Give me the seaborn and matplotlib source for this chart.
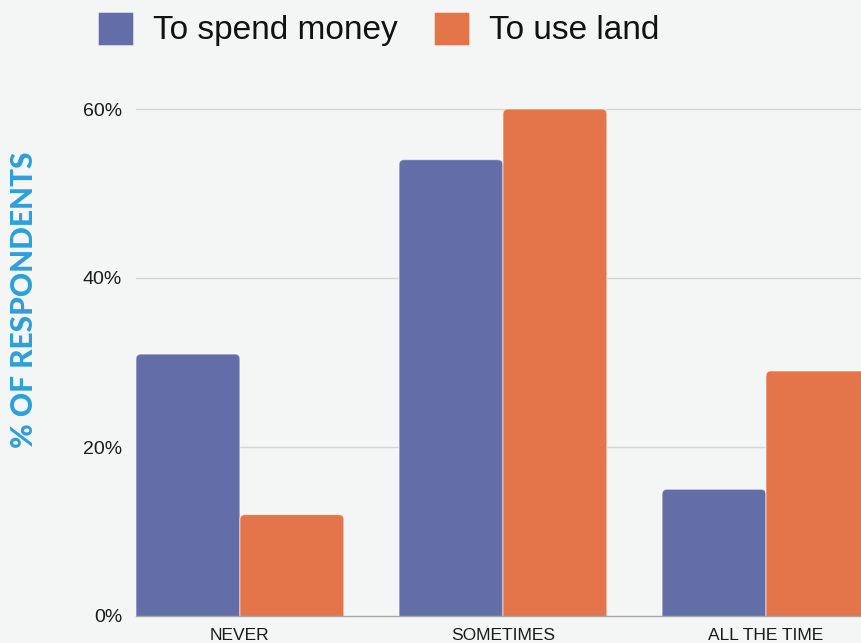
import matplotlib
matplotlib.use("Agg")
import matplotlib.pyplot as plt
from matplotlib.patches import FancyBboxPatch, Patch
import seaborn as sns
import pandas as pd

categories = ["NEVER", "SOMETIMES", "ALL THE TIME"]
series_names = ["To spend money", "To use land"]
spend_money = [31, 54, 15]
use_land = [12, 60, 29]
y_ticks = [0, 20, 40, 60]
y_tick_labels = ["0%", "20%", "40%", "60%"]

colors = ["#636EA8", "#E4744A"]
bg = "#F4F6F5"

df = pd.DataFrame({
    "category": categories * 2,
    "series": [series_names[0]] * 3 + [series_names[1]] * 3,
    "value": spend_money + use_land,
})

sns.set_theme(style="white")
plt.rcParams["font.family"] = ["Liberation Sans", "DejaVu Sans"]

W, H = 861, 643
fig = plt.figure(figsize=(W / 100, H / 100), dpi=100, facecolor=bg)

# axes: left edge at x=136px, bottom (0%) at y=616px, runs past the right edge
ymax = 62
px_per_unit = (616 - 109) / 60
ax_top_px = 616 - ymax * px_per_unit
ax = fig.add_axes([136 / W, (H - 616) / H, 1 - 136 / W, (616 - ax_top_px) / H])
ax.set_facecolor(bg)

sns.barplot(data=df, x="category", y="value", hue="series", order=categories,
            hue_order=series_names, palette=colors, width=0.79, saturation=1,
            ax=ax, legend=False, zorder=2)

ax.set_xlim(-0.395, (861 - 240) / 263)
ax.set_ylim(0, ymax)

# replace plain rectangles with bars that have rounded top corners
fig.canvas.draw()
bbox = ax.get_window_extent()
x0, x1 = ax.get_xlim()
y0, y1 = ax.get_ylim()
x_per_px = (x1 - x0) / bbox.width
y_per_px = (y1 - y0) / bbox.height
aspect = y_per_px / x_per_px
radius_px = 5
r = radius_px * x_per_px
for rect in list(ax.patches):
    x, w, h = rect.get_x(), rect.get_width(), rect.get_height()
    fc = rect.get_facecolor()
    rect.remove()
    extra = 2 * radius_px * y_per_px
    ax.add_patch(FancyBboxPatch(
        (x, -extra), w, h + extra,
        boxstyle=f"round,pad=0,rounding_size={r}",
        mutation_aspect=aspect, facecolor=fc,
        edgecolor=(1, 1, 1, 0.55), linewidth=0.8, zorder=2))

ax.set_yticks(y_ticks)
ax.set_yticklabels(y_tick_labels, fontsize=14, color="#1a1a1a")
ax.tick_params(axis="y", length=0, pad=10)
ax.tick_params(axis="x", length=0, pad=8.5, labelsize=12.5, labelcolor="#1a1a1a")
ax.set_xlabel("")
ax.set_ylabel("")
for s in ["top", "right", "left"]:
    ax.spines[s].set_visible(False)
ax.spines["bottom"].set_color("#a8a8a8")
ax.spines["bottom"].set_linewidth(1.0)
ax.spines["bottom"].set_zorder(3)
for yv in y_ticks[1:]:
    ax.axhline(yv, color="#d4d6d6", linewidth=1.0, zorder=1)

fig.text(24 / W, 1 - 300 / H, "% OF RESPONDENTS", rotation=90, ha="center",
         va="center", fontsize=21.5, fontweight="black",
         family=["Lato", "Liberation Sans", "DejaVu Sans"], color="#2C9FDB")

handles = [Patch(facecolor=c, edgecolor=(1, 1, 1, 0.5), linewidth=0.6)
           for c in colors]
fig.legend(handles, series_names, loc="center left",
           bbox_to_anchor=(98 / W, 1 - 29 / H), ncol=2, frameon=False,
           fontsize=24, handlelength=1.05, handleheight=1.14,
           handletextpad=0.6, columnspacing=1.1, borderpad=0,
           borderaxespad=0, labelcolor="#111111")

fig.savefig("out.png", dpi=100, facecolor=bg)
